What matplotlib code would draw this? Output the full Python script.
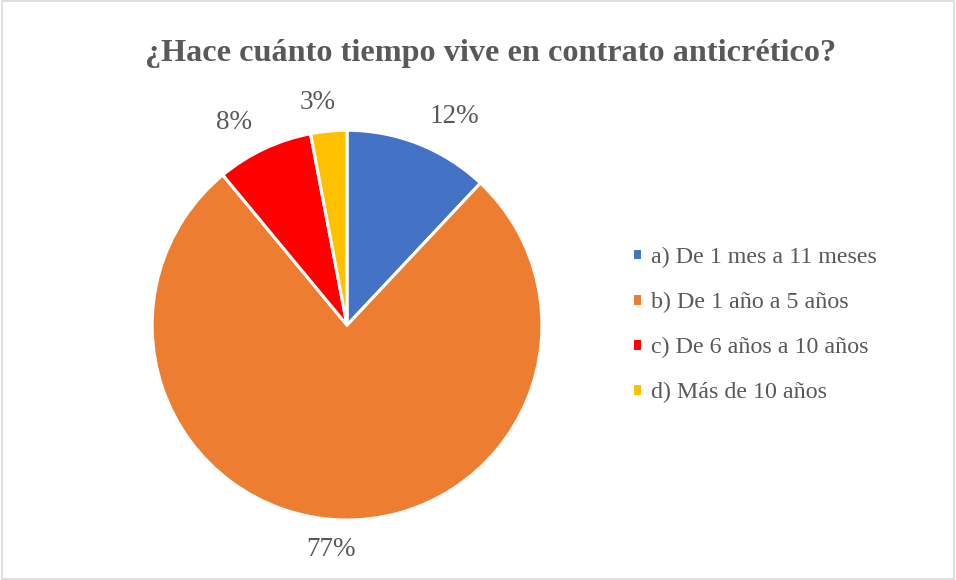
import matplotlib
matplotlib.use("Agg")
import matplotlib.pyplot as plt
from matplotlib.patches import Rectangle

categories = ["a) De 1 mes a 11 meses", "b) De 1 año a 5 años", "c) De 6 años a 10 años", "d) Más de 10 años"]
values = [12, 77, 8, 3]
colors = ["#4472C4", "#ED7D31", "#FF0000", "#FFC000"]
title = "¿Hace cuánto tiempo vive en contrato anticrético?"

plt.rcParams['font.family'] = ['Liberation Serif', 'DejaVu Serif']
text_color = "#595959"

fig = plt.figure(figsize=(9.56, 5.8), dpi=100)
fig.patches.append(Rectangle((0.002, 0.002), 0.996, 0.996, transform=fig.transFigure,
                             fill=False, edgecolor="#D9D9D9", linewidth=1.2))

ax = fig.add_axes([0.159, 0.1034, 0.408, 0.672])
wedges, texts, autotexts = ax.pie(values, colors=colors, startangle=90, counterclock=False,
                                  autopct=lambda p: f"{p:.0f}%", pctdistance=1.15,
                                  wedgeprops=dict(edgecolor="white", linewidth=2.2),
                                  textprops=dict(fontsize=19.5, color=text_color))
for t in autotexts:
    x, y = t.get_position()
    if x > 0.2:
        t.set_ha('left')
    elif x < -0.2:
        t.set_ha('right')
    else:
        t.set_ha('center')
        t.set_x(x - 0.045)
ax.set_aspect('equal')
ax.set_xlim(-1, 1)
ax.set_ylim(-1, 1)

fig.text(0.5136, 0.907, title, ha='center', va='center', fontsize=23.2, fontweight='bold', color=text_color)

leg = fig.legend(wedges, categories, loc='center left', bbox_to_anchor=(0.638, 0.44),
                 frameon=False, fontsize=17.3, labelcolor=text_color,
                 handlelength=0.45, handleheight=0.45, handletextpad=0.35, labelspacing=1.0)

fig.savefig("out.png", dpi=100)
